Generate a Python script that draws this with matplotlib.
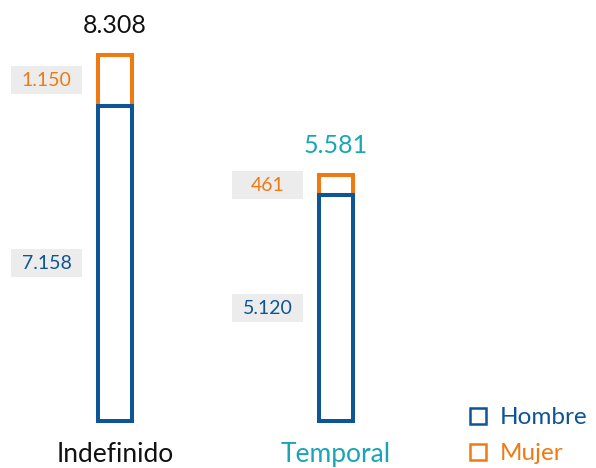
import matplotlib
matplotlib.use("Agg")
import matplotlib.pyplot as plt
from matplotlib.patches import Rectangle

categories = ["Indefinido", "Temporal"]
hombre = [7158, 5120]
mujer = [1150, 461]
hombre_lbl = ["7.158", "5.120"]
mujer_lbl = ["1.150", "461"]
total_lbl = ["8.308", "5.581"]
series = ["Hombre", "Mujer"]

BLUE = "#0d5595"
ORANGE = "#f07a12"
TEAL = "#18a6b6"
GREY = "#ececec"
cat_colors = ["#111111", TEAL]
series_colors = [BLUE, ORANGE]

plt.rcParams['font.family'] = ['Lato', 'DejaVu Sans']

W, H = 596, 468
fig = plt.figure(figsize=(W / 100, H / 100), dpi=100)
ax = fig.add_axes([0, 0, 1, 1])
ax.set_xlim(-0.5204, 2.1765)
ax.set_ylim(-1067, 9557)
ax.axis('off')

x = list(range(len(categories)))
w = 0.154
lw = 2.9
tops = [h + m for h, m in zip(hombre, mujer)]

ax.bar(x, mujer, bottom=hombre, width=w, fill=False, edgecolor=ORANGE,
       linewidth=lw, joinstyle='miter', zorder=2)
ax.bar(x, hombre, width=w, fill=False, edgecolor=BLUE,
       linewidth=lw, joinstyle='miter', zorder=3)

bw = 71 / 221
bh = 28 / 0.04405
for i in x:
    cx = i - 0.149 - bw / 2
    for val, base, lbl, col in [(hombre[i], 0, hombre_lbl[i], BLUE),
                                (mujer[i], hombre[i], mujer_lbl[i], ORANGE)]:
        cy = base + val / 2
        ax.add_patch(Rectangle((cx - bw / 2, cy - bh / 2), bw, bh,
                               facecolor=GREY, edgecolor='none', zorder=1))
        ax.text(cx, cy, lbl, ha='center', va='center', fontsize=14,
                color=col, zorder=4)
    ax.text(i, tops[i] + 420, total_lbl[i], ha='center', va='bottom',
            fontsize=18, color=cat_colors[i])
    ax.text(i, -470, categories[i], ha='center', va='top', fontsize=19,
            color=cat_colors[i])

# legend
leg_y = [416, 452]
for name, col, py in zip(series, series_colors, leg_y):
    fy = 1 - py / H
    fig.lines.append(plt.Line2D([478 / W], [fy], transform=fig.transFigure,
                                marker='s', linestyle='none', markersize=11,
                                markerfacecolor='none', markeredgecolor=col,
                                markeredgewidth=1.8))
    fig.text(500 / W, fy, name, ha='left', va='center_baseline', fontsize=17.5,
             color=col)

fig.savefig("out.png", dpi=100)
